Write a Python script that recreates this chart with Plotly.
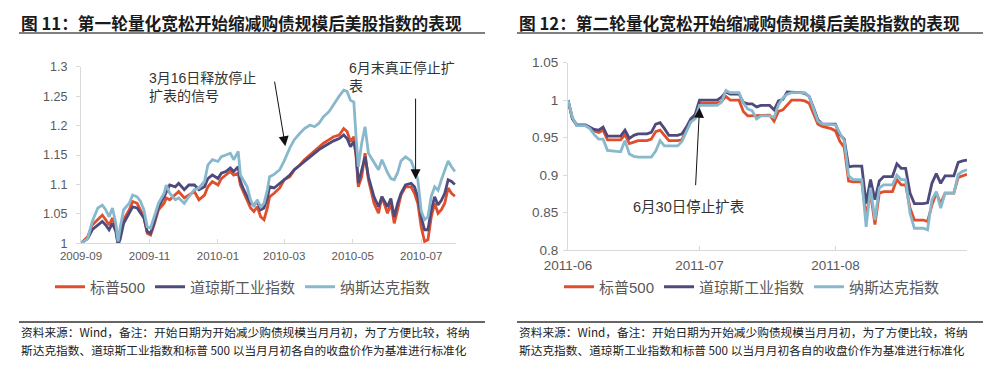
import plotly.graph_objects as go

# ---------------- data: chart 11 (QE1 taper) ----------------
left_dates = [
    "2009-09-01", "2009-09-07", "2009-09-11", "2009-09-16", "2009-09-20", "2009-09-23",
    "2009-09-26", "2009-09-29", "2009-10-02", "2009-10-04", "2009-10-06", "2009-10-09",
    "2009-10-14", "2009-10-17", "2009-10-21", "2009-10-24", "2009-10-27", "2009-10-30",
    "2009-11-02", "2009-11-05", "2009-11-09", "2009-11-14", "2009-11-16", "2009-11-19",
    "2009-11-24", "2009-11-27", "2009-12-02", "2009-12-06", "2009-12-11", "2009-12-15",
    "2009-12-20", "2009-12-23", "2009-12-27", "2010-01-01", "2010-01-04", "2010-01-08",
    "2010-01-12", "2010-01-15", "2010-01-19", "2010-01-21", "2010-01-24", "2010-01-27",
    "2010-01-30", "2010-02-02", "2010-02-05", "2010-02-08", "2010-02-11", "2010-02-14",
    "2010-02-16", "2010-02-20", "2010-02-25", "2010-03-01", "2010-03-06", "2010-03-10",
    "2010-03-15", "2010-03-19", "2010-03-24", "2010-03-28", "2010-04-01", "2010-04-05",
    "2010-04-10", "2010-04-14", "2010-04-19", "2010-04-23", "2010-04-26", "2010-04-29",
    "2010-05-02", "2010-05-04", "2010-05-06", "2010-05-09", "2010-05-12", "2010-05-15",
    "2010-05-20", "2010-05-24", "2010-05-27", "2010-06-01", "2010-06-04", "2010-06-07",
    "2010-06-10", "2010-06-13", "2010-06-17", "2010-06-22", "2010-06-25", "2010-06-28",
    "2010-07-01", "2010-07-04", "2010-07-07", "2010-07-10", "2010-07-13", "2010-07-16",
    "2010-07-19", "2010-07-22", "2010-07-25", "2010-07-28", "2010-07-31",
]
left_sp500 = [
    1.0, 1.011, 1.031, 1.04, 1.048, 1.04, 1.031, 1.043, 1.026, 1.0, 1.017, 1.04,
    1.057, 1.071, 1.068, 1.057, 1.045, 1.017, 1.014, 1.031, 1.057, 1.068, 1.077, 1.074,
    1.082, 1.088, 1.077, 1.082, 1.088, 1.074, 1.082, 1.096, 1.105, 1.099, 1.11, 1.116,
    1.122, 1.116, 1.119, 1.099, 1.085, 1.071, 1.06, 1.054, 1.062, 1.045, 1.04, 1.06,
    1.079, 1.085, 1.094, 1.108, 1.113, 1.125, 1.133, 1.142, 1.15, 1.156, 1.162, 1.17,
    1.176, 1.181, 1.184, 1.195, 1.19, 1.173, 1.181, 1.147, 1.096, 1.113, 1.153, 1.108,
    1.068, 1.051, 1.079, 1.051, 1.068, 1.034, 1.057, 1.082, 1.096, 1.096, 1.085, 1.068,
    1.028, 1.003, 1.006, 1.045, 1.068, 1.051, 1.057, 1.068, 1.094, 1.085, 1.08,
]
left_dow = [
    1.0, 1.008, 1.023, 1.031, 1.037, 1.031, 1.023, 1.034, 1.02, 0.997, 1.008, 1.034,
    1.051, 1.062, 1.06, 1.051, 1.043, 1.02, 1.017, 1.034, 1.062, 1.079, 1.088, 1.099,
    1.096, 1.102, 1.091, 1.099, 1.099, 1.091, 1.096, 1.11, 1.116, 1.11, 1.119, 1.122,
    1.128, 1.122, 1.13, 1.105, 1.091, 1.079, 1.068, 1.065, 1.071, 1.057, 1.06, 1.077,
    1.096, 1.094, 1.102, 1.108, 1.116, 1.125, 1.133, 1.139, 1.147, 1.153, 1.159, 1.164,
    1.17, 1.174, 1.178, 1.184, 1.178, 1.164, 1.173, 1.153, 1.102, 1.125, 1.147, 1.113,
    1.079, 1.062, 1.079, 1.062, 1.076, 1.045, 1.068, 1.085, 1.099, 1.102, 1.096, 1.079,
    1.045, 1.023, 1.023, 1.057, 1.079, 1.065, 1.073, 1.085, 1.108, 1.105, 1.1,
]
left_nasdaq = [
    1.0, 1.008, 1.037, 1.06, 1.065, 1.057, 1.045, 1.06, 1.034, 1.003, 1.028, 1.057,
    1.068, 1.082, 1.079, 1.071, 1.057, 1.028, 1.026, 1.045, 1.068, 1.085, 1.099, 1.085,
    1.074, 1.077, 1.068, 1.079, 1.091, 1.094, 1.105, 1.133, 1.142, 1.139, 1.147, 1.15,
    1.153, 1.142, 1.156, 1.116, 1.105, 1.096, 1.074, 1.062, 1.074, 1.062, 1.068, 1.091,
    1.113, 1.117, 1.125, 1.14, 1.162, 1.176, 1.187, 1.195, 1.201, 1.198, 1.204, 1.215,
    1.224, 1.236, 1.25, 1.26, 1.258, 1.243, 1.24, 1.181, 1.13, 1.17, 1.198, 1.153,
    1.136, 1.125, 1.142, 1.12, 1.11, 1.108, 1.12, 1.14, 1.147, 1.14, 1.125, 1.108,
    1.055, 1.04, 1.045, 1.08, 1.096, 1.09, 1.108, 1.125, 1.14, 1.13, 1.122,
]
left_yticks = [1.0, 1.05, 1.1, 1.15, 1.2, 1.25, 1.3]
left_ytext = ["1", "1.05", "1.1", "1.15", "1.2", "1.25", "1.3"]
left_xticks = ["2009-09-01", "2009-11-01", "2010-01-01", "2010-03-01", "2010-05-01", "2010-07-01"]
left_xtext = ["2009-09", "2009-11", "2010-01", "2010-03", "2010-05", "2010-07"]

# ---------------- data: chart 12 (QE2 end) ----------------
right_dates = [
    "2011-06-01", "2011-06-02", "2011-06-03", "2011-06-05", "2011-06-06", "2011-06-07",
    "2011-06-08", "2011-06-09", "2011-06-10", "2011-06-12", "2011-06-13", "2011-06-14",
    "2011-06-15", "2011-06-16", "2011-06-17", "2011-06-19", "2011-06-20", "2011-06-21",
    "2011-06-22", "2011-06-23", "2011-06-24", "2011-06-26", "2011-06-27", "2011-06-28",
    "2011-06-29", "2011-06-30", "2011-07-01", "2011-07-05", "2011-07-06", "2011-07-07",
    "2011-07-08", "2011-07-10", "2011-07-11", "2011-07-12", "2011-07-13", "2011-07-14",
    "2011-07-15", "2011-07-17", "2011-07-18", "2011-07-19", "2011-07-20", "2011-07-21",
    "2011-07-22", "2011-07-24", "2011-07-25", "2011-07-26", "2011-07-27", "2011-07-28",
    "2011-07-29", "2011-07-31", "2011-08-01", "2011-08-02", "2011-08-03", "2011-08-04",
    "2011-08-05", "2011-08-07", "2011-08-08", "2011-08-09", "2011-08-10", "2011-08-11",
    "2011-08-12", "2011-08-14", "2011-08-15", "2011-08-16", "2011-08-17", "2011-08-18",
    "2011-08-19", "2011-08-21", "2011-08-22", "2011-08-23", "2011-08-24", "2011-08-25",
    "2011-08-26", "2011-08-28", "2011-08-29", "2011-08-30", "2011-08-31",
]
right_dow = [
    1.0, 0.975, 0.967, 0.967, 0.964, 0.961, 0.960, 0.964, 0.952, 0.952, 0.952, 0.960,
    0.949, 0.953, 0.955, 0.955, 0.957, 0.968, 0.970, 0.962, 0.953, 0.953, 0.955, 0.964,
    0.975, 0.981, 1.0, 1.0, 1.004, 1.011, 1.008, 1.008, 0.997, 0.995, 0.995, 0.991,
    0.993, 0.993, 0.987, 0.999, 1.001, 1.011, 1.011, 1.010, 1.009, 1.005, 0.990, 0.974,
    0.968, 0.968, 0.968, 0.954, 0.948, 0.911, 0.912, 0.912, 0.862, 0.894, 0.867, 0.892,
    0.898, 0.898, 0.915, 0.909, 0.909, 0.876, 0.862, 0.862, 0.863, 0.889, 0.902, 0.889,
    0.899, 0.899, 0.917, 0.919, 0.920,
]
right_sp500 = [
    1.0, 0.976, 0.966, 0.966, 0.963, 0.959, 0.957, 0.960, 0.947, 0.947, 0.947, 0.954,
    0.942, 0.944, 0.946, 0.946, 0.948, 0.958, 0.960, 0.953, 0.946, 0.946, 0.947, 0.961,
    0.971, 0.978, 0.996, 0.996, 0.998, 1.005, 1.0, 1.0, 0.985, 0.979, 0.979, 0.979,
    0.980, 0.980, 0.972, 0.985, 0.987, 0.994, 1.0, 1.0, 0.999, 0.996, 0.982, 0.968,
    0.965, 0.962, 0.959, 0.945, 0.937, 0.892, 0.891, 0.891, 0.845, 0.876, 0.834, 0.876,
    0.878, 0.878, 0.894, 0.887, 0.887, 0.856, 0.840, 0.840, 0.838, 0.860, 0.876, 0.862,
    0.876, 0.876, 0.897, 0.899, 0.901,
]
right_nasdaq = [
    1.0, 0.977, 0.966, 0.966, 0.962, 0.954, 0.948, 0.948, 0.933, 0.932, 0.931, 0.946,
    0.928, 0.925, 0.924, 0.924, 0.924, 0.932, 0.946, 0.939, 0.939, 0.939, 0.945, 0.959,
    0.971, 0.975, 0.993, 0.993, 0.997, 1.013, 1.010, 1.010, 0.996, 0.988, 0.986, 0.975,
    0.979, 0.979, 0.977, 0.994, 1.003, 1.008, 1.010, 1.010, 1.010, 1.005, 0.988, 0.972,
    0.968, 0.967, 0.967, 0.956, 0.946, 0.899, 0.894, 0.894, 0.831, 0.883, 0.840, 0.883,
    0.887, 0.887, 0.900, 0.894, 0.894, 0.849, 0.829, 0.829, 0.827, 0.867, 0.878, 0.856,
    0.876, 0.876, 0.901, 0.905, 0.907,
]
right_yticks = [0.8, 0.85, 0.9, 0.95, 1.0, 1.05]
right_ytext = ["0.8", "0.85", "0.9", "0.95", "1", "1.05"]
right_xticks = ["2011-06-01", "2011-07-01", "2011-08-01"]
right_xtext = ["2011-06", "2011-07", "2011-08"]

series_names = ["标普500", "道琼斯工业指数", "纳斯达克指数"]
series_colors = ["#E04E2B", "#4F4A7C", "#88B8CC"]

title_left = "图 11：第一轮量化宽松开始缩减购债规模后美股指数的表现"
title_right = "图 12：第二轮量化宽松开始缩减购债规模后美股指数的表现"
note_line1 = "资料来源：Wind，备注：开始日期为开始减少购债规模当月月初，为了方便比较，将纳"
note_line2 = "斯达克指数、道琼斯工业指数和标普 500 以当月月初各自的收盘价作为基准进行标准化"

# page body has an 8px margin: the figure fills the visible 992x360 area
OFF = 8
W, H = 1000 - OFF, 368 - OFF
def px(x):
    return (x - OFF) / W
def py(y):
    return 1 - (y - OFF) / H

CJK = "Liberation Sans, Noto Sans CJK SC, sans-serif"
fig = go.Figure()

left_vals = [left_sp500, left_dow, left_nasdaq]
right_vals = [right_sp500, right_dow, right_nasdaq]
for name, color, vals in zip(series_names, series_colors, left_vals):
    fig.add_trace(go.Scatter(x=left_dates, y=vals, mode="lines", name=name,
                             line=dict(color=color, width=2.8),
                             xaxis="x", yaxis="y", legend="legend"))
for name, color, vals in zip(series_names, series_colors, right_vals):
    fig.add_trace(go.Scatter(x=right_dates, y=vals, mode="lines", name=name,
                             line=dict(color=color, width=2.8),
                             xaxis="x2", yaxis="y2", legend="legend2"))

def axis(size, **kw):
    d = dict(showgrid=False, zeroline=False, showline=True, automargin=False,
             linecolor="#D9D9D9", linewidth=1.2, tickcolor="#D9D9D9",
             tickfont=dict(family=CJK, color="#595959", size=size))
    d.update(kw)
    return d

fig.update_layout(
    template="none",
    width=W, height=H, autosize=False,
    margin=dict(l=0, r=0, t=0, b=0, pad=0, autoexpand=False),
    paper_bgcolor="white", plot_bgcolor="white",
    xaxis=axis(11.5, domain=[px(81), px(456)], type="date",
               range=["2009-09-01", "2010-08-01"],
               tickvals=left_xticks, ticktext=left_xtext,
               ticks="inside", ticklen=4, anchor="y", ticklabelstandoff=2),
    yaxis=axis(12.5, domain=[py(243.3), py(66.7)], range=[1.0, 1.3],
               tickvals=left_yticks, ticktext=left_ytext,
               ticks="outside", ticklen=4, anchor="x", ticklabelstandoff=6),
    xaxis2=axis(13.5, domain=[px(568), px(967)], type="date",
                range=["2011-06-01", "2011-08-31"],
                tickvals=right_xticks, ticktext=right_xtext,
                ticks="inside", ticklen=4, anchor="y2", ticklabelstandoff=3),
    yaxis2=axis(13.5, domain=[py(250), py(62.7)], range=[0.8, 1.05],
                tickvals=right_yticks, ticktext=right_ytext,
                ticks="outside", ticklen=4, anchor="x2", ticklabelstandoff=2),
    legend=dict(orientation="h", x=px(50), y=py(287), xanchor="left", yanchor="middle",
                font=dict(family=CJK, size=15, color="#595959"), bgcolor="rgba(0,0,0,0)"),
    legend2=dict(orientation="h", x=px(559), y=py(287), xanchor="left", yanchor="middle",
                 font=dict(family=CJK, size=15, color="#595959"), bgcolor="rgba(0,0,0,0)"),
)

ann = []
# titles
for txt, x0 in [(title_left, 19), (title_right, 517)]:
    ann.append(dict(text="<b>" + txt + "</b>", xref="paper", yref="paper", x=px(x0), y=py(23),
                    xanchor="left", yanchor="middle", showarrow=False,
                    font=dict(family="Noto Sans CJK SC", size=16.7, color="#1a1a1a")))
# notes
for x0 in [19, 517]:
    for txt, yy in [(note_line1, 331), (note_line2, 349)]:
        ann.append(dict(text=txt, xref="paper", yref="paper", x=px(x0), y=py(yy),
                        xanchor="left", yanchor="middle", showarrow=False,
                        font=dict(family="Noto Sans CJK SC", size=11.7, color="#222222")))
# callout texts
callout_font = dict(family=CJK, size=14, color="#333333")
ann.append(dict(text="3月16日释放停止<br>扩表的信号", xref="paper", yref="paper", x=px(147), y=py(87),
                xanchor="left", yanchor="middle", align="left", showarrow=False, font=callout_font))
ann.append(dict(text="6月末真正停止扩<br>表", xref="paper", yref="paper", x=px(347), y=py(77),
                xanchor="left", yanchor="middle", align="left", showarrow=False, font=callout_font))
ann.append(dict(text="6月30日停止扩表", xref="paper", yref="paper", x=px(631), y=py(207),
                xanchor="left", yanchor="middle", align="left", showarrow=False,
                font=dict(family=CJK, size=14.5, color="#333333")))
# arrows
arrow = dict(text="", showarrow=True, arrowhead=2, arrowsize=2.0, arrowwidth=1,
             arrowcolor="#111111", axref="pixel", ayref="pixel")
ann.append(dict(xref="x", yref="y", x="2010-03-02", y=1.165, ax=-11, ay=-66, **arrow))
ann.append(dict(xref="x", yref="y", x="2010-06-26", y=1.109, ax=0, ay=-82, **arrow))
ann.append(dict(xref="x2", yref="y2", x="2011-07-01", y=0.99, ax=-4, ay=79, **arrow))
fig.update_layout(annotations=ann)

shapes = []
for x0, x1 in [(19, 485), (517, 983)]:
    shapes.append(dict(type="line", xref="paper", yref="paper", x0=px(x0), x1=px(x1),
                       y0=py(33), y1=py(33), line=dict(color="#555555", width=1.5)))
    shapes.append(dict(type="line", xref="paper", yref="paper", x0=px(x0), x1=px(x1),
                       y0=py(322), y1=py(322), line=dict(color="#333333", width=1.5)))
fig.update_layout(shapes=shapes)

fig.write_html("out.html")
